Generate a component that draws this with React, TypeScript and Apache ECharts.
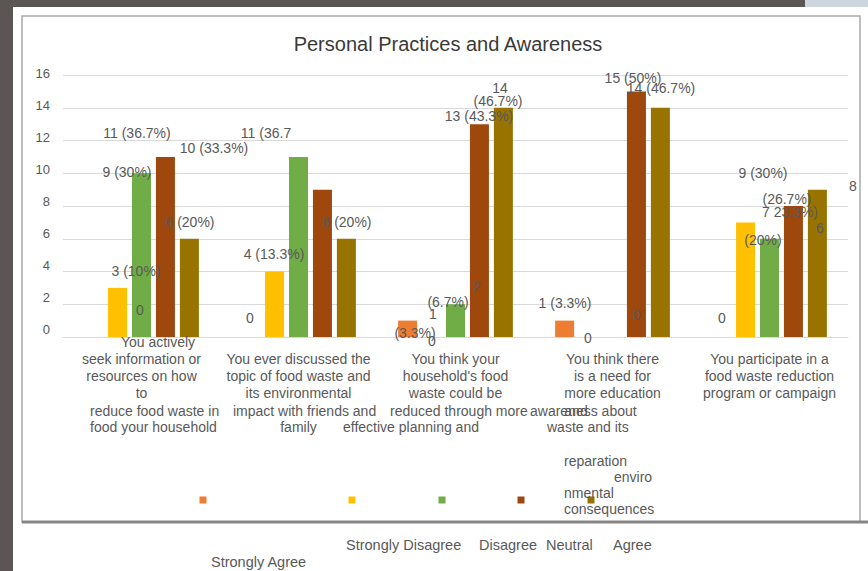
import React, { useEffect, useRef } from "react";
import * as echarts from "echarts";

// ---- data ----
const categories = [
  "You actively seek information or resources on how to reduce food waste in your household",
  "You ever discussed the topic of food waste and its environmental impact with friends and family",
  "You think your household's food waste could be reduced through more effective planning and preparation",
  "You think there is a need for more education and awareness about food waste and its environmental consequences",
  "You participate in a food waste reduction program or campaign",
];
const seriesNames = ["Strongly Agree", "Strongly Disagree", "Disagree", "Neutral", "Agree"];
const stronglyAgree = [0, 0, 1, 1, 0];
const stronglyDisagree = [3, 4, 0, 0, 7];
const disagree = [10, 11, 2, 0, 6];
const neutral = [11, 9, 13, 15, 8];
const agree = [6, 6, 14, 14, 9];
const yTicks = [0, 2, 4, 6, 8, 10, 12, 14, 16];

// centred wrapped lines of each category label, as drawn under the axis
const axisLabelLines = [
  ["seek information or", "resources on how", "to"],
  ["You ever discussed the", "topic of food waste and", "its environmental", "", "family"],
  ["You think your", "household's food", "waste could be"],
  ["You think there", "is a need for", "more education"],
  ["You participate in a", "food waste reduction", "program or campaign"],
];

// stray label fragments as they appear in the picture (layout)
const strayAxisText = [
  { text: "You actively", x: 158, y: 342, align: "center" },
  { text: "reduce food waste in", x: 90, y: 411, align: "left" },
  { text: "food your household", x: 90, y: 427, align: "left" },
  { text: "impact with friends and", x: 233, y: 411, align: "left" },
  { text: "reduced through more", x: 390, y: 411, align: "left" },
  { text: "effective planning and", x: 343, y: 427, align: "left" },
  { text: "awareness about", x: 530, y: 411, align: "left" },
  { text: "and", x: 576, y: 411, align: "center" },
  { text: "waste and its", x: 547, y: 427, align: "left" },
  { text: "reparation", x: 564, y: 461, align: "left" },
  { text: "enviro", x: 614, y: 477, align: "left" },
  { text: "nmental", x: 564, y: 493, align: "left" },
  { text: "consequences", x: 564, y: 509, align: "left" },
];

// data-label texts (as printed in the picture) and where they sit
const dataLabels = [
  { text: "0", x: 140, y: 310 },
  { text: "3 (10%)", x: 136, y: 271 },
  { text: "9 (30%)", x: 127, y: 172 },
  { text: "11 (36.7%)", x: 137, y: 133 },
  { text: "10 (33.3%)", x: 214, y: 148 },
  { text: "6 (20%)", x: 190, y: 222 },
  { text: "0", x: 250, y: 318 },
  { text: "4 (13.3%)", x: 274, y: 254 },
  { text: "11 (36.7", x: 266, y: 133 },
  { text: "6 (20%)", x: 347, y: 222 },
  { text: "(3.3%)", x: 415, y: 333 },
  { text: "1", x: 433, y: 314 },
  { text: "(6.7%)", x: 448, y: 302 },
  { text: "0", x: 432, y: 341 },
  { text: "2", x: 477, y: 287 },
  { text: "14", x: 500, y: 88 },
  { text: "(46.7%)", x: 498, y: 101 },
  { text: "13 (43.3%)", x: 479, y: 116 },
  { text: "1 (3.3%)", x: 565, y: 303 },
  { text: "0", x: 588, y: 338 },
  { text: "0", x: 637, y: 315 },
  { text: "15 (50%)", x: 633, y: 78 },
  { text: "14 (46.7%)", x: 661, y: 88 },
  { text: "0", x: 722, y: 318 },
  { text: "9 (30%)", x: 763, y: 173 },
  { text: "8", x: 853, y: 186 },
  { text: "(26.7%)", x: 787, y: 199 },
  { text: "7 23.3%)", x: 790, y: 212 },
  { text: "(20%)", x: 763, y: 240 },
  { text: "6", x: 820, y: 228 },
];

const colors = ["#ED7D31", "#FFC000", "#70AD47", "#9E480E", "#997300"];
const legendMarkerX = [203, 352, 442, 521, 591];
const legendTextPos = [
  { x: 211, y: 562 },
  { x: 346, y: 545 },
  { x: 479, y: 545 },
  { x: 546, y: 545 },
  { x: 613, y: 545 },
];

const FONT = '"Liberation Sans", Arial, Helvetica, sans-serif';
const TXT = "#595959";

function textEl(text: string, x: number, y: number, align: string, size = 14, color = TXT) {
  return {
    type: "text",
    x,
    y,
    z: 100,
    silent: true,
    style: {
      text,
      fill: color,
      fontSize: size,
      fontFamily: FONT,
      textAlign: align,
      align,
      textVerticalAlign: "middle",
      verticalAlign: "middle",
    },
  };
}

export default function App() {
  const ref = useRef<HTMLDivElement>(null);
  useEffect(() => {
    if (!ref.current) return;
    const chart = echarts.init(ref.current, null, { renderer: "svg" });
    const values = [stronglyAgree, stronglyDisagree, disagree, neutral, agree];

    const graphic: any[] = [
      { type: "rect", z: -10, silent: true, shape: { x: 0, y: 0, width: 868, height: 7 }, style: { fill: "#5b5654" } },
      { type: "rect", z: -9, silent: true, shape: { x: 805, y: 0, width: 63, height: 7 }, style: { fill: "#cdd5de" } },
      { type: "rect", z: -10, silent: true, shape: { x: 0, y: 0, width: 13, height: 571 }, style: { fill: "#5b5654" } },
      {
        type: "rect",
        z: -8,
        silent: true,
        shape: { x: 22, y: 16, width: 838, height: 506 },
        style: { fill: "none", stroke: "#a9a9a9", lineWidth: 1.5 },
      },
      {
        type: "line",
        z: -7,
        silent: true,
        shape: { x1: 22, y1: 522, x2: 868, y2: 522 },
        style: { stroke: "#858585", lineWidth: 3 },
      },
    ];
    legendMarkerX.forEach((x, i) => {
      graphic.push({
        type: "rect",
        z: 50,
        silent: true,
        shape: { x: x - 3.5, y: 496.5, width: 7, height: 7 },
        style: { fill: colors[i] },
      });
    });
    seriesNames.forEach((n, i) => {
      graphic.push(textEl(n, legendTextPos[i].x, legendTextPos[i].y, "left", 14.5));
    });
    strayAxisText.forEach((t) => graphic.push(textEl(t.text, t.x, t.y, t.align)));
    dataLabels.forEach((t) => graphic.push(textEl(t.text, t.x, t.y, "center")));

    const yMin = yTicks[0];
    const yMax = yTicks[yTicks.length - 1];

    chart.setOption({
      animation: false,
      backgroundColor: "#ffffff",
      title: {
        text: "Personal Practices and Awareness",
        left: 443,
        top: 29,
        textAlign: "center",
        textStyle: { fontFamily: FONT, fontSize: 20, fontWeight: "normal", color: "#3a3a3a" },
      },
      grid: [
        { left: 63, right: 20, top: 75, bottom: 234, containLabel: false },
        // the tick labels in the picture sit slightly off the gridlines
        { left: 63, right: 20, top: 73, bottom: 242, containLabel: false },
      ],
      xAxis: [
        {
          type: "category",
          gridIndex: 0,
          data: categories,
          axisLine: { show: true, lineStyle: { color: "#d9d9d9", width: 1 } },
          axisTick: { show: false },
          axisLabel: {
            interval: 0,
            margin: 13,
            fontFamily: FONT,
            fontSize: 14,
            lineHeight: 17,
            color: TXT,
            formatter: (_v: string, i: number) => axisLabelLines[i].join("\n"),
          },
        },
        { type: "category", gridIndex: 1, data: categories, show: false },
      ],
      yAxis: [
        {
          type: "value",
          gridIndex: 0,
          min: yMin,
          max: yMax,
          interval: 2,
          axisLine: { show: false },
          axisTick: { show: false },
          axisLabel: { show: false },
          splitLine: { lineStyle: { color: "#d9d9d9", width: 1 } },
        },
        {
          type: "value",
          gridIndex: 1,
          min: yMin,
          max: yMax,
          interval: 2,
          axisLine: { show: false },
          axisTick: { show: false },
          splitLine: { show: false },
          axisLabel: { fontFamily: FONT, fontSize: 13, color: TXT, margin: 13 },
        },
      ],
      series: seriesNames.map((name, i) => ({
        name,
        type: "bar",
        xAxisIndex: 0,
        yAxisIndex: 0,
        data: values[i],
        barWidth: 19,
        barGap: "26%",
        itemStyle: { color: colors[i] },
      })),
      graphic,
    });
    return () => chart.dispose();
  }, []);
  return (
    <div
      ref={ref}
      style={{ position: "fixed", left: 0, top: 0, width: 868, height: 571, background: "#fff" }}
    />
  );
}
